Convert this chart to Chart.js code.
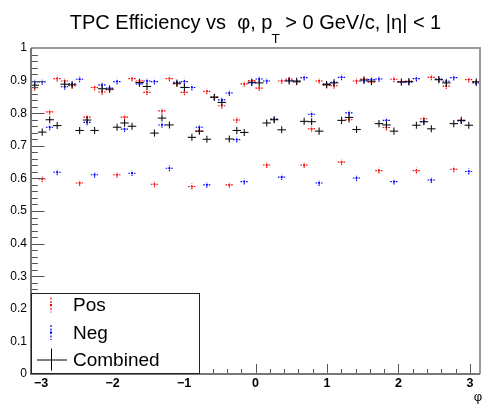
<!DOCTYPE html>
<html><head><meta charset="utf-8">
<script src="https://cdn.jsdelivr.net/npm/chart.js@4.4.0/dist/chart.umd.min.js"></script>
<style>html,body{margin:0;padding:0;background:#fff;}#wrap{width:484px;height:405px;position:relative;}</style>
</head><body><div id="wrap"><canvas id="c" width="484" height="405"></canvas></div>
<script>
// ---- data (60 phi bins from -pi to pi) ----
const nBins = 60;
const phiMin = -Math.PI, phiMax = Math.PI;
const posEff = [0.878,0.598,0.804,0.906,0.899,0.884,0.586,0.788,0.879,0.865,
                0.872,0.611,0.788,0.906,0.899,0.864,0.582,0.807,0.906,0.890,
                0.864,0.575,0.745,0.867,0.850,0.823,0.580,0.779,0.890,0.900,
                0.877,0.641,0.781,0.899,0.905,0.895,0.641,0.752,0.899,0.885,
                0.884,0.650,0.780,0.899,0.905,0.895,0.624,0.756,0.904,0.897,
                0.899,0.624,0.783,0.910,0.903,0.883,0.628,0.778,0.903,0.897];
const negEff = [0.896,0.896,0.757,0.619,0.881,0.890,0.904,0.772,0.611,0.887,
                0.877,0.897,0.751,0.616,0.890,0.899,0.897,0.764,0.631,0.895,
                0.897,0.879,0.757,0.580,0.848,0.841,0.862,0.719,0.590,0.893,
                0.905,0.899,0.782,0.604,0.901,0.899,0.909,0.797,0.586,0.890,
                0.895,0.910,0.801,0.601,0.899,0.903,0.905,0.778,0.590,0.895,
                0.895,0.906,0.774,0.595,0.905,0.898,0.909,0.776,0.621,0.893];
const combEff = [0.886,0.742,0.780,0.762,0.889,0.887,0.747,0.779,0.747,0.875,
                 0.874,0.757,0.770,0.760,0.894,0.882,0.739,0.785,0.764,0.892,
                 0.879,0.726,0.745,0.720,0.849,0.833,0.721,0.747,0.741,0.895,
                 0.893,0.770,0.780,0.749,0.899,0.898,0.775,0.774,0.745,0.888,
                 0.893,0.778,0.787,0.750,0.902,0.898,0.768,0.764,0.745,0.896,
                 0.897,0.763,0.774,0.752,0.903,0.893,0.768,0.778,0.763,0.896];
const effErr = 0.009;
const yTickValues = [0,0.1,0.2,0.3,0.4,0.5,0.6,0.7,0.8,0.9,1];
const yTickLabels = ['0','0.1','0.2','0.3','0.4','0.5','0.6','0.7','0.8','0.9','1'];
const xTickValues = [-3,-2,-1,0,1,2,3];
const xTickLabels = ['\u22123','\u22122','\u22121','0','1','2','3'];
const legendLabels = ['Pos','Neg','Combined'];
const titleParts = {before:'TPC Efficiency vs  \u03c6, p', sub:'T', after:' > 0 GeV/c, |\u03b7| < 1'};
const xAxisTitle = '\u03c6';

const binW = (phiMax - phiMin) / nBins;
const centers = Array.from({length:nBins}, (_, i) => phiMin + (i + 0.5) * binW);
const toPts = arr => arr.map((v, i) => ({x: centers[i], y: v}));

const RED = '#ff0000', BLUE = '#0000ff', BLACK = '#000000';
const FONT = '"Liberation Sans", Arial, Helvetica, sans-serif';

const rootPlugin = {
  id: 'rootStyle',
  beforeDatasetsDraw(chart) {
    const ctx = chart.ctx, xs = chart.scales.x, ys = chart.scales.y;
    const sets = [[posEff, RED, true], [negEff, BLUE, true]];
    ctx.save();
    sets.forEach(([arr, col, dashed]) => {
      ctx.strokeStyle = col; ctx.lineWidth = 1.1;
      ctx.setLineDash(dashed ? [1.6, 1.2] : []);
      arr.forEach((v, i) => {
        const c = centers[i];
        const x1 = xs.getPixelForValue(c - binW / 2), x2 = xs.getPixelForValue(c + binW / 2);
        const xc = xs.getPixelForValue(c), yc = ys.getPixelForValue(v);
        const y1 = ys.getPixelForValue(v - effErr), y2 = ys.getPixelForValue(v + effErr);
        ctx.beginPath(); ctx.moveTo(x1, yc); ctx.lineTo(x2, yc); ctx.stroke();
        ctx.beginPath(); ctx.moveTo(xc, y1); ctx.lineTo(xc, y2); ctx.stroke();
      });
    });
    ctx.restore();
  },
  afterDatasetsDraw(chart) {
    const ctx = chart.ctx, xs = chart.scales.x, ys = chart.scales.y;
    const a = chart.chartArea;
    ctx.save();
    // combined crosses (solid)
    ctx.strokeStyle = '#111'; ctx.lineWidth = 1.1; ctx.setLineDash([]);
    combEff.forEach((v, i) => {
      const c = centers[i];
      const x1 = xs.getPixelForValue(c - binW / 2), x2 = xs.getPixelForValue(c + binW / 2);
      const xc = xs.getPixelForValue(c), yc = ys.getPixelForValue(v);
      const y1 = ys.getPixelForValue(v - effErr * 1.2), y2 = ys.getPixelForValue(v + effErr * 1.2);
      ctx.beginPath(); ctx.moveTo(x1 - 0.5, yc); ctx.lineTo(x2 + 0.5, yc); ctx.stroke();
      ctx.beginPath(); ctx.moveTo(xc, y1); ctx.lineTo(xc, y2); ctx.stroke();
    });
    // ticks
    ctx.strokeStyle = '#555'; ctx.lineWidth = 1;
    for (let k = 0; k <= 50; k++) {
      const v = k / 50; const y = Math.round(ys.getPixelForValue(v)) + 0.5;
      const len = (k % 5 === 0) ? 13.5 : 6.8;
      ctx.beginPath(); ctx.moveTo(a.left, y); ctx.lineTo(a.left + len, y); ctx.stroke();
    }
    for (let k = -16; k <= 16; k++) {
      const v = k / 5; if (v < phiMin || v > phiMax) continue;
      const x = Math.round(xs.getPixelForValue(v)) + 0.5;
      const len = (k % 5 === 0) ? 10 : 5;
      ctx.beginPath(); ctx.moveTo(x, a.bottom); ctx.lineTo(x, a.bottom - len); ctx.stroke();
    }
    // frame
    ctx.lineWidth = 2;
    ctx.strokeStyle = '#9a9a9a';
    ctx.beginPath(); ctx.moveTo(a.left, a.top); ctx.lineTo(a.right, a.top); ctx.lineTo(a.right, a.bottom); ctx.stroke();
    ctx.strokeStyle = '#777';
    ctx.beginPath(); ctx.moveTo(a.left, a.top); ctx.lineTo(a.left, a.bottom); ctx.lineTo(a.right, a.bottom); ctx.stroke();
    // tick labels
    ctx.fillStyle = '#000';
    ctx.font = '12px ' + FONT; ctx.textAlign = 'right'; ctx.textBaseline = 'middle';
    yTickValues.forEach((v, i) => ctx.fillText(yTickLabels[i], 27, ys.getPixelForValue(v)));
    ctx.font = 'bold 12.5px ' + FONT; ctx.textAlign = 'center';
    xTickValues.forEach((v, i) => ctx.fillText(xTickLabels[i], xs.getPixelForValue(v), a.bottom + 10));
    ctx.font = '13px ' + FONT;
    ctx.fillText(xAxisTitle, 478, 397);
    // legend
    const lx1 = a.left, lx2 = 200, ly1 = 293, ly2 = a.bottom;
    ctx.fillStyle = '#fff'; ctx.fillRect(lx1, ly1, lx2 - lx1, ly2 - ly1);
    ctx.strokeStyle = '#222'; ctx.lineWidth = 1;
    ctx.strokeRect(lx1 + 0.5, ly1 + 0.5, lx2 - lx1 - 1, ly2 - ly1 - 1);
    const rowY = [305, 332.5, 359.5];
    const symX = 51;
    [[RED], [BLUE]].forEach(([col], k) => {
      const y = rowY[k];
      ctx.strokeStyle = col; ctx.lineWidth = 1.2; ctx.setLineDash([2, 1.5]);
      ctx.beginPath(); ctx.moveTo(symX, y - 7.5); ctx.lineTo(symX, y + 7.5); ctx.stroke();
      ctx.setLineDash([]);
      ctx.fillStyle = col; ctx.fillRect(symX - 1, y - 1, 2, 2);
    });
    ctx.strokeStyle = '#000'; ctx.lineWidth = 1; ctx.setLineDash([]);
    ctx.beginPath(); ctx.moveTo(37, rowY[2] + 0.5); ctx.lineTo(67, rowY[2] + 0.5); ctx.stroke();
    ctx.beginPath(); ctx.moveTo(symX + 0.5, rowY[2] - 11); ctx.lineTo(symX + 0.5, rowY[2] + 11); ctx.stroke();
    ctx.fillStyle = '#000'; ctx.font = '19px ' + FONT; ctx.textAlign = 'left'; ctx.textBaseline = 'middle';
    legendLabels.forEach((t, k) => ctx.fillText(t, 73, rowY[k] + 1));
    // title
    ctx.textBaseline = 'alphabetic';
    ctx.font = '20px ' + FONT;
    const wB = ctx.measureText(titleParts.before).width;
    const wA = ctx.measureText(titleParts.after).width;
    ctx.font = '13.5px ' + FONT;
    const wS = ctx.measureText(titleParts.sub).width;
    let tx = 256 - (wB + wS + wA) / 2;
    ctx.font = '20px ' + FONT; ctx.fillText(titleParts.before, tx, 28.5); tx += wB - 1;
    ctx.font = '13.5px ' + FONT; ctx.fillText(titleParts.sub, tx, 42.5); tx += wS;
    ctx.font = '20px ' + FONT; ctx.fillText(titleParts.after, tx, 28.5);
    ctx.restore();
  }
};

new Chart(document.getElementById('c'), {
  type: 'scatter',
  data: {
    datasets: [
      {label: legendLabels[0], data: toPts(posEff), pointStyle: 'rect', pointRadius: 1.2, backgroundColor: RED, borderWidth: 0},
      {label: legendLabels[1], data: toPts(negEff), pointStyle: 'rect', pointRadius: 1.2, backgroundColor: BLUE, borderWidth: 0},
      {label: legendLabels[2], data: toPts(combEff), pointRadius: 0, backgroundColor: BLACK, borderWidth: 0}
    ]
  },
  options: {
    responsive: false, animation: false, devicePixelRatio: 1,
    layout: {padding: {left: 31, right: 2, top: 48, bottom: 31}},
    plugins: {legend: {display: false}, title: {display: false}, tooltip: {enabled: false}},
    scales: {
      x: {type: 'linear', min: phiMin, max: phiMax, display: false},
      y: {min: 0, max: 1, display: false}
    }
  },
  plugins: [rootPlugin]
});
</script>
</body></html>
